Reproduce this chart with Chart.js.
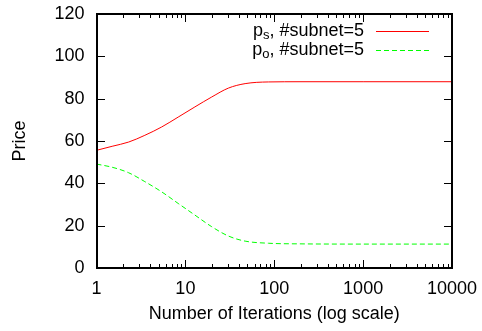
<!DOCTYPE html>
<html>
<head>
<meta charset="utf-8">
<script src="https://cdn.jsdelivr.net/npm/chart.js@4/dist/chart.umd.min.js"></script>
<style>
  html, body { margin: 0; padding: 0; background: #fff; }
  #wrap { width: 482px; height: 331px; }
</style>
</head>
<body>
<div id="wrap"><canvas id="price-chart"></canvas></div>
<script>
// iterations (log x axis)
const iterations = [1, 1.5, 2.3, 3.5, 5.4, 8.3, 12.8, 19.8, 30.5, 47, 86, 200, 1000, 10000];
// p_s, #subnet=5
const priceS = [55.6, 57.5, 59.5, 62.7, 66.6, 71.3, 76.1, 80.8, 85, 87.1, 87.9, 88, 88, 88];
// p_o, #subnet=5
const priceO = [49.1, 47.6, 45, 40.8, 36, 30.5, 25, 19.5, 15.1, 12.7, 11.7, 11.4, 11.3, 11.3];
const xTicks = [1, 10, 100, 1000, 10000];
const yTicks = [0, 20, 40, 60, 80, 100, 120];

const FONT = "Liberation Sans, Arial, Helvetica, sans-serif";

// gnuplot style frame, inward ticks and legend with subscripts
const framePlugin = {
	id: "frame",
	afterDraw(chart) {
		const ctx = chart.ctx;
		const a = chart.chartArea;
		const xs = chart.scales.x;
		const ys = chart.scales.y;
		const L = Math.floor(a.left), R = Math.round(a.right);
		const T = Math.round(a.top), B = Math.round(a.bottom);
		ctx.save();
		ctx.globalAlpha = 1;
		ctx.globalCompositeOperation = "source-over";
		ctx.fillStyle = "rgb(0,0,0)";
		// frame, 2px
		ctx.fillRect(L, T - 1, R - L + 1, 2);
		ctx.fillRect(L, B - 1, R - L + 1, 2);
		ctx.fillRect(L, T - 1, 2, B - T + 2);
		ctx.fillRect(R - 1, T - 1, 2, B - T + 2);
		// x ticks, major + minor 2..9, bottom and top
		xTicks.forEach((v) => {
			const px = Math.round(xs.getPixelForValue(v));
			ctx.fillRect(px, B - 8, 1, 8);
			ctx.fillRect(px, T, 1, 8);
			if (v < 10000) {
				for (let m = 2; m <= 9; m++) {
					const mx = Math.round(xs.getPixelForValue(v * m));
					ctx.fillRect(mx, B - 4, 1, 4);
					ctx.fillRect(mx, T, 1, 4);
				}
			}
		});
		// y ticks, left and right
		yTicks.forEach((v) => {
			const py = Math.round(ys.getPixelForValue(v));
			ctx.fillRect(L, py, 9, 1);
			ctx.fillRect(R - 8, py, 9, 1);
		});

		// legend
		const rows = [
			{ sub: "s", color: "rgb(255,0,0)", dashed: false, y: 36, ly: 31 },
			{ sub: "o", color: "rgb(0,255,0)", dashed: true, y: 55, ly: 50 },
		];
		const textRight = 364;
		rows.forEach((r) => {
			ctx.fillStyle = "rgb(0,0,0)";
			ctx.textBaseline = "alphabetic";
			ctx.textAlign = "left";
			ctx.font = "18px " + FONT;
			const rest = ", #subnet=5";
			const wRest = ctx.measureText(rest).width;
			const wP = ctx.measureText("p").width;
			ctx.font = "13px " + FONT;
			const wSub = ctx.measureText(r.sub).width;
			let x = textRight - wRest - wSub - wP;
			ctx.font = "18px " + FONT;
			ctx.fillText("p", x, r.y);
			x += wP;
			ctx.font = "13px " + FONT;
			ctx.fillText(r.sub, x, r.y + 3);
			x += wSub;
			ctx.font = "18px " + FONT;
			ctx.fillText(rest, x, r.y);
		});
		// sample lines
		rows.forEach((r) => {
			ctx.fillStyle = r.color;
			if (r.dashed) {
				for (let sx = 376; sx < 429; sx += 8) {
					ctx.fillRect(sx, r.ly, Math.min(5, 429 - sx), 1);
				}
			} else {
				ctx.fillRect(376, r.ly, 53, 1);
			}
		});
		ctx.restore();
	},
};

const toPoints = (vals) => vals.map((v, i) => ({ x: iterations[i], y: v }));

new Chart(document.getElementById("price-chart"), {
	type: "line",
	data: {
		datasets: [
			{
				label: "p_s, #subnet=5",
				data: toPoints(priceS),
				borderColor: "#ff0000",
				borderWidth: 1,
				pointRadius: 0,
				cubicInterpolationMode: "monotone",
			},
			{
				label: "p_o, #subnet=5",
				data: toPoints(priceO),
				borderColor: "#00ff00",
				borderWidth: 1,
				borderDash: [5, 3],
				pointRadius: 0,
				cubicInterpolationMode: "monotone",
			},
		],
	},
	options: {
		responsive: true,
		maintainAspectRatio: false,
		animation: false,
		layout: { padding: { top: 14, right: 30, left: 0, bottom: 0 } },
		scales: {
			x: {
				type: "logarithmic",
				min: 1,
				max: 10000,
				afterBuildTicks: (scale) => {
					scale.ticks = xTicks.map((v) => ({ value: v, major: true }));
				},
				afterFit: (scale) => {
					scale.height = 63;
					scale.paddingLeft = 0;
					scale.paddingRight = 0;
				},
				ticks: {
					color: "#000",
					font: { family: FONT, size: 18 },
					padding: 10,
					maxRotation: 0,
					autoSkip: false,
					callback: (v) => String(v),
				},
				grid: { display: false, drawTicks: false },
				border: { display: false },
				title: {
					display: true,
					text: "Number of Iterations (log scale)",
					color: "#000",
					font: { family: FONT, size: 18 },
					padding: { top: 0, bottom: 6 },
				},
			},
			y: {
				min: 0,
				max: 120,
				afterBuildTicks: (scale) => {
					scale.ticks = yTicks.map((v) => ({ value: v }));
				},
				afterFit: (scale) => {
					scale.width = 96.5;
					scale.paddingTop = 0;
					scale.paddingBottom = 0;
				},
				ticks: {
					color: "#000",
					font: { family: FONT, size: 18 },
					padding: 12,
				},
				grid: { display: false, drawTicks: false },
				border: { display: false },
				title: {
					display: true,
					text: "Price",
					color: "#000",
					font: { family: FONT, size: 18 },
					padding: { top: 9, bottom: 0 },
				},
			},
		},
		plugins: {
			legend: { display: false },
			tooltip: { enabled: false },
		},
	},
	plugins: [framePlugin],
});
</script>
</body>
</html>
